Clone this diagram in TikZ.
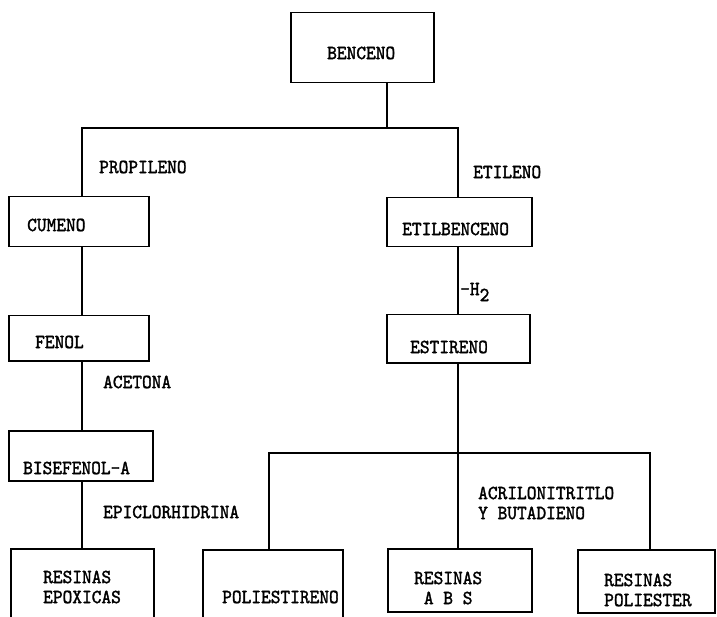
\documentclass[tikz,border=0pt]{standalone}
\usepackage{fontspec}
\newfontfamily\tw{lmmono10-regular.otf}[FakeStretch=0.925,FakeBold=1.6]
\begin{document}
\begin{tikzpicture}[x=1pt,y=-1pt,
  box/.style={draw,line width=1.5pt,inner sep=0pt,anchor=north west},
  lbl/.style={anchor=west,inner sep=0pt,font=\fontsize{20}{20}\tw,align=left},
  conn/.style={line width=1.5pt}]
\clip (0,0) rectangle (717,617);
\fill[white] (0,0) rectangle (717,617);
% boxes
\node[box,minimum width=143pt,minimum height=70pt] (benceno) at (290,12) {};
\node[box,minimum width=140pt,minimum height=50pt] (cumeno) at (8,196) {};
\node[box,minimum width=145pt,minimum height=49pt] (etil) at (386,197) {};
\node[box,minimum width=140pt,minimum height=45pt] (fenol) at (8,315) {};
\node[box,minimum width=143pt,minimum height=48pt] (estireno) at (386,314) {};
\node[box,minimum width=144pt,minimum height=50pt] (bisf) at (8,430) {};
\node[box,minimum width=143pt,minimum height=80pt] (epox) at (10,548) {};
\node[box,minimum width=140pt,minimum height=80pt] (polies) at (202,549) {};
\node[box,minimum width=144pt,minimum height=63pt] (abs) at (387,548) {};
\node[box,minimum width=137pt,minimum height=63pt] (polyester) at (577,549) {};
% box texts
\node[lbl] (tbenceno) at (327,53) {BENCENO};
\node[lbl] (tcumeno) at (27,225) {CUMENO};
\node[lbl] (tetil) at (402,229) {ETILBENCENO};
\node[lbl] (tfenol) at (35,342) {FENOL};
\node[lbl] (testireno) at (410,347) {ESTIRENO};
\node[lbl] (tbisf) at (23,468) {BISEFENOL-A};
\node[lbl] (tepox) at (43,587) {RESINAS\\EPOXICAS};
\node[lbl] (tpolies) at (222,597) {POLIESTIRENO};
\node[lbl] (tabs) at (414,588) {RESINAS\\\ A B S};
\node[lbl] (tpolyester) at (604,590) {RESINAS\\POLIESTER};
% reagent labels
\node[lbl] (propileno) at (99,167) {PROPILENO};
\node[lbl] (etileno) at (473,172) {ETILENO};
\node[lbl] (h2) at (460,292) {-H\raisebox{-6pt}{2}};
\node[lbl] (acetona) at (103,382) {ACETONA};
\node[lbl] (epicl) at (103,512) {EPICLORHIDRINA};
\node[lbl] (acril) at (478,503) {ACRILONITRITLO\\Y BUTADIENO};
% connectors
\coordinate (j1) at (387,128);
\coordinate (bl) at (82,128);
\coordinate (br) at (458,128);
\coordinate (j2) at (458,453);
\coordinate (cl) at (269,453);
\coordinate (cr) at (650,453);
\draw[conn] (benceno.south -| j1) -- (j1);
\draw[conn] (cumeno.north -| bl) -- (bl) -- (br) -- (etil.north -| br);
\draw[conn] (cumeno.south -| bl) -- (fenol.north -| bl);
\draw[conn] (fenol.south -| bl) -- (bisf.north -| bl);
\draw[conn] (bisf.south -| bl) -- (epox.north -| bl);
\draw[conn] (etil.south -| br) -- (estireno.north -| br);
\draw[conn] (estireno.south -| br) -- (abs.north -| br);
\draw[conn] (polies.north -| cl) -- (cl) -- (cr) -- (polyester.north -| cr);
\end{tikzpicture}
\end{document}
